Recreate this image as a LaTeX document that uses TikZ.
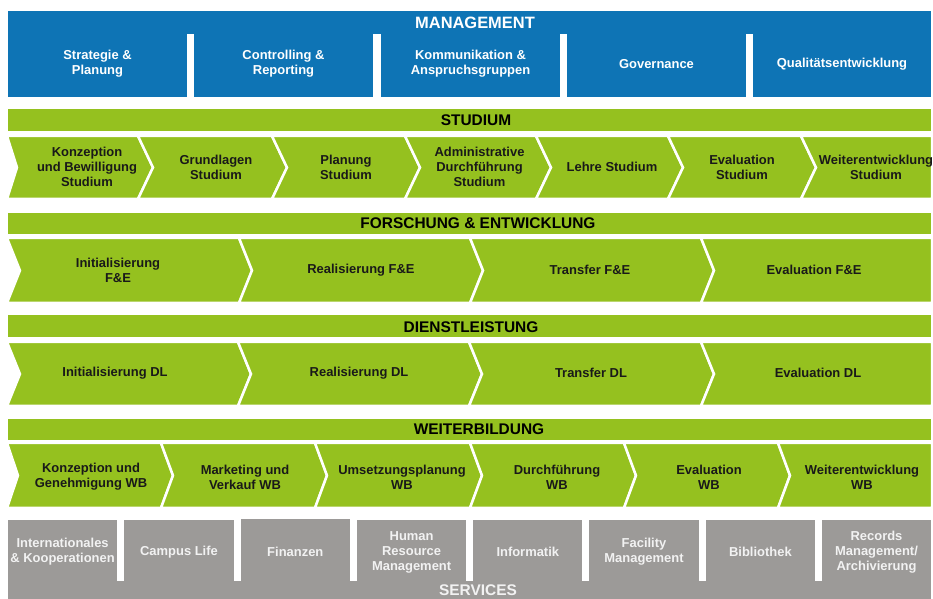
\documentclass[tikz,border=0pt]{standalone}
\usepackage{fontspec}
\setmainfont{Liberation Sans}
\definecolor{mgmtblue}{rgb}{0.055,0.455,0.71}
\definecolor{procgreen}{rgb}{0.584,0.757,0.122}
\definecolor{servgray}{rgb}{0.612,0.604,0.596}
\definecolor{servtext}{rgb}{0.95,0.95,0.95}
\definecolor{proctext}{rgb}{0.1,0.1,0.1}
\begin{document}
\begin{tikzpicture}[x=1bp,y=1bp,line join=miter,
  lbl/.style={font=\bfseries\fontsize{13}{15}\selectfont,align=center,inner sep=0pt},
  head/.style={font=\bfseries\fontsize{15.5}{17}\selectfont,inner sep=0pt},
  chev/.style={fill=procgreen,draw=white,line width=2.5bp},
  band/.style={fill=procgreen}]
  \useasboundingbox (0bp,0bp) rectangle (933bp,599bp);
%%
  % Band: Management
\begin{scope}
  \fill [mgmtblue] (8bp,565bp) rectangle (931bp,588bp);
  \fill [mgmtblue] (8bp,502bp) rectangle (187bp,566bp);
  \fill [mgmtblue] (194bp,502bp) rectangle (373bp,566bp);
  \fill [mgmtblue] (381bp,502bp) rectangle (560bp,566bp);
  \fill [mgmtblue] (567bp,502bp) rectangle (746bp,566bp);
  \fill [mgmtblue] (753bp,502bp) rectangle (931bp,566bp);
  \node [head,font=\bfseries\fontsize{16.5}{18}\selectfont,white] (Management) at (475bp,576bp) {MANAGEMENT};
  \node [lbl,white] (Strategie) at (97.5bp,535bp) {Strategie \&\\Planung};
  \node [lbl,white] (Controlling) at (283.5bp,535bp) {Controlling \&\\Reporting};
  \node [lbl,white] (Kommunikation) at (470.5bp,535bp) {Kommunikation \&\\Anspruchsgruppen};
  \node [lbl,white] (Governance) at (656.5bp,535bp) {Governance};
  \node [lbl,white] (Qualitaet) at (842bp,535bp) {Qualitätsentwicklung};
\end{scope}
  % Band: Studium
\begin{scope}
  \fill [band] (8bp,468bp) rectangle (931bp,490bp);
  \node [head] (Studium) at (476bp,479bp) {STUDIUM};
  \filldraw [chev] (7bp,400bp) -- (17bp,431.5bp) -- (7bp,463bp) -- (138bp,463bp) -- (153bp,431.5bp) -- (138bp,400bp) -- cycle;
  \filldraw [chev] (138bp,400bp) -- (153bp,431.5bp) -- (138bp,463bp) -- (272bp,463bp) -- (287bp,431.5bp) -- (272bp,400bp) -- cycle;
  \filldraw [chev] (272bp,400bp) -- (287bp,431.5bp) -- (272bp,463bp) -- (405bp,463bp) -- (420bp,431.5bp) -- (405bp,400bp) -- cycle;
  \filldraw [chev] (405bp,400bp) -- (420bp,431.5bp) -- (405bp,463bp) -- (536bp,463bp) -- (551bp,431.5bp) -- (536bp,400bp) -- cycle;
  \filldraw [chev] (536bp,400bp) -- (551bp,431.5bp) -- (536bp,463bp) -- (668bp,463bp) -- (683bp,431.5bp) -- (668bp,400bp) -- cycle;
  \filldraw [chev] (668bp,400bp) -- (683bp,431.5bp) -- (668bp,463bp) -- (801bp,463bp) -- (816bp,431.5bp) -- (801bp,400bp) -- cycle;
  \filldraw [chev] (801bp,400bp) -- (816bp,431.5bp) -- (801bp,463bp) -- (932bp,463bp) -- (932bp,400bp) -- cycle;
  \node [lbl,proctext] (KonzeptionStudium) at (87bp,432bp) {Konzeption\\und Bewilligung\\Studium};
  \node [lbl,proctext] (GrundlagenStudium) at (216bp,432bp) {Grundlagen\\Studium};
  \node [lbl,proctext] (PlanungStudium) at (346bp,432bp) {Planung\\Studium};
  \node [lbl,proctext] (AdminStudium) at (479.5bp,432bp) {Administrative\\Durchführung\\Studium};
  \node [lbl,proctext] (LehreStudium) at (612bp,432bp) {Lehre Studium};
  \node [lbl,proctext] (EvalStudium) at (742bp,432bp) {Evaluation\\Studium};
  \node [lbl,proctext] (WeiterStudium) at (876bp,432bp) {Weiterentwicklung\\Studium};
\end{scope}
  % Band: Forschung & Entwicklung
\begin{scope}
  \fill [band] (8bp,365bp) rectangle (931bp,386bp);
  \node [head] (Forschung) at (478bp,376bp) {FORSCHUNG \& ENTWICKLUNG};
  \filldraw [chev] (7bp,296bp) -- (20bp,328.5bp) -- (7bp,361bp) -- (239bp,361bp) -- (252bp,328.5bp) -- (239bp,296bp) -- cycle;
  \filldraw [chev] (239bp,296bp) -- (252bp,328.5bp) -- (239bp,361bp) -- (470bp,361bp) -- (483bp,328.5bp) -- (470bp,296bp) -- cycle;
  \filldraw [chev] (470bp,296bp) -- (483bp,328.5bp) -- (470bp,361bp) -- (701bp,361bp) -- (714bp,328.5bp) -- (701bp,296bp) -- cycle;
  \filldraw [chev] (701bp,296bp) -- (714bp,328.5bp) -- (701bp,361bp) -- (932bp,361bp) -- (932bp,296bp) -- cycle;
  \node [lbl,proctext] (InitFE) at (118bp,329bp) {Initialisierung\\F\&E};
  \node [lbl,proctext] (RealFE) at (361bp,329bp) {Realisierung F\&E};
  \node [lbl,proctext] (TransferFE) at (590bp,329bp) {Transfer F\&E};
  \node [lbl,proctext] (EvalFE) at (814bp,329bp) {Evaluation F\&E};
\end{scope}
  % Band: Dienstleistung
\begin{scope}
  \fill [band] (8bp,262bp) rectangle (931bp,284bp);
  \node [head] (Dienstleistung) at (471bp,272bp) {DIENSTLEISTUNG};
  \filldraw [chev] (7bp,193bp) -- (20bp,225bp) -- (7bp,257bp) -- (238bp,257bp) -- (251bp,225bp) -- (238bp,193bp) -- cycle;
  \filldraw [chev] (238bp,193bp) -- (251bp,225bp) -- (238bp,257bp) -- (469bp,257bp) -- (482bp,225bp) -- (469bp,193bp) -- cycle;
  \filldraw [chev] (469bp,193bp) -- (482bp,225bp) -- (469bp,257bp) -- (701bp,257bp) -- (714bp,225bp) -- (701bp,193bp) -- cycle;
  \filldraw [chev] (701bp,193bp) -- (714bp,225bp) -- (701bp,257bp) -- (932bp,257bp) -- (932bp,193bp) -- cycle;
  \node [lbl,proctext] (InitDL) at (115bp,226bp) {Initialisierung DL};
  \node [lbl,proctext] (RealDL) at (359bp,226bp) {Realisierung DL};
  \node [lbl,proctext] (TransferDL) at (591bp,226bp) {Transfer DL};
  \node [lbl,proctext] (EvalDL) at (818bp,226bp) {Evaluation DL};
\end{scope}
  % Band: Weiterbildung
\begin{scope}
  \fill [band] (8bp,159bp) rectangle (931bp,180bp);
  \node [head] (Weiterbildung) at (479bp,169.5bp) {WEITERBILDUNG};
  \filldraw [chev] (7bp,91bp) -- (18bp,123.5bp) -- (7bp,156bp) -- (161bp,156bp) -- (173bp,123.5bp) -- (161bp,91bp) -- cycle;
  \filldraw [chev] (161bp,91bp) -- (173bp,123.5bp) -- (161bp,156bp) -- (315bp,156bp) -- (327bp,123.5bp) -- (315bp,91bp) -- cycle;
  \filldraw [chev] (315bp,91bp) -- (327bp,123.5bp) -- (315bp,156bp) -- (470bp,156bp) -- (482bp,123.5bp) -- (470bp,91bp) -- cycle;
  \filldraw [chev] (470bp,91bp) -- (482bp,123.5bp) -- (470bp,156bp) -- (624bp,156bp) -- (636bp,123.5bp) -- (624bp,91bp) -- cycle;
  \filldraw [chev] (624bp,91bp) -- (636bp,123.5bp) -- (624bp,156bp) -- (778bp,156bp) -- (790bp,123.5bp) -- (778bp,91bp) -- cycle;
  \filldraw [chev] (778bp,91bp) -- (790bp,123.5bp) -- (778bp,156bp) -- (932bp,156bp) -- (932bp,91bp) -- cycle;
  \node [lbl,proctext] (KonzeptionWB) at (91bp,122bp) {Konzeption und\\Genehmigung WB};
  \node [lbl,proctext] (MarketingWB) at (245bp,122bp) {Marketing und\\Verkauf WB};
  \node [lbl,proctext] (UmsetzungWB) at (402bp,122bp) {Umsetzungsplanung\\WB};
  \node [lbl,proctext] (DurchfWB) at (557bp,122bp) {Durchführung\\WB};
  \node [lbl,proctext] (EvalWB) at (709bp,122bp) {Evaluation\\WB};
  \node [lbl,proctext] (WeiterWB) at (862bp,122bp) {Weiterentwicklung\\WB};
\end{scope}
  % Band: Services
\begin{scope}
  \fill [servgray] (8bp,-12bp) rectangle (931bp,18bp);
  \fill [servgray] (8bp,17bp) rectangle (117.3bp,79bp);
  \fill [servgray] (124.3bp,17bp) rectangle (233.6bp,79bp);
  \fill [servgray] (240.6bp,17bp) rectangle (349.9bp,80bp);
  \fill [servgray] (356.9bp,17bp) rectangle (466.2bp,79bp);
  \fill [servgray] (473.1bp,17bp) rectangle (582.4bp,79bp);
  \fill [servgray] (589.4bp,17bp) rectangle (698.7bp,79bp);
  \fill [servgray] (705.7bp,17bp) rectangle (815bp,79bp);
  \fill [servgray] (822bp,17bp) rectangle (931bp,79bp);
  \node [head,servtext] (Services) at (478bp,8.5bp) {SERVICES};
  \node [lbl,servtext] (International) at (62.6bp,47bp) {Internationales\\\& Kooperationen};
  \node [lbl,servtext] (Campus) at (179bp,47bp) {Campus Life};
  \node [lbl,servtext] (Finanzen) at (295.3bp,47bp) {Finanzen};
  \node [lbl,servtext] (HumanRes) at (411.6bp,47bp) {Human\\Resource\\Management};
  \node [lbl,servtext] (Informatik) at (527.8bp,47bp) {Informatik};
  \node [lbl,servtext] (Facility) at (644bp,47bp) {Facility\\Management};
  \node [lbl,servtext] (Bibliothek) at (760.4bp,47bp) {Bibliothek};
  \node [lbl,servtext] (Records) at (876.5bp,47bp) {Records\\Management/\\Archivierung};
\end{scope}
%
\end{tikzpicture}
\end{document}
